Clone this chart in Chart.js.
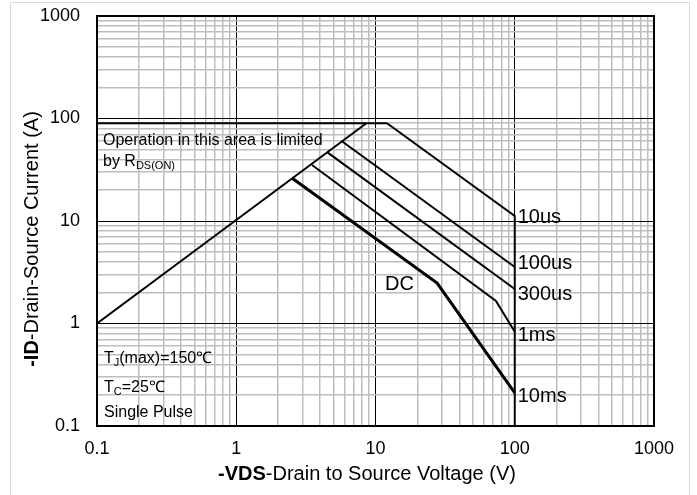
<!DOCTYPE html>
<html>
<head>
<meta charset="utf-8">
<script src="https://cdn.jsdelivr.net/npm/chart.js@4.4.1/dist/chart.umd.min.js"></script>
<style>
  html, body { margin: 0; padding: 0; background: #fff; }
  canvas { display: block; }
</style>
</head>
<body>
<canvas id="soa" width="697" height="495"></canvas>
<script>
// axis decades (tick labels)
const xDecades = [0.1, 1, 10, 100, 1000];
const yDecades = [0.1, 1, 10, 100, 1000];

// curves: VDS (V) and ID (A)
const limitV = [0.1, 12.1];
const limitI = [90, 90];
const rdsV = [0.1, 8.6];
const rdsI = [1, 90];
const us10V = [12.1, 100, 100];
const us10I = [90, 11.2, 0.1];
const us100V = [5.74, 100];
const us100I = [60, 3.56];
const us300V = [4.49, 100];
const us300I = [47, 2.17];
const ms1V = [3.5, 73.3, 100];
const ms1I = [35.2, 1.66, 0.83];
const dcV = [2.51, 27.7, 100];
const dcI = [26.3, 2.48, 0.21];

// labels at the right end of the pulse curves
const curveLabels = ['10us', '100us', '300us', '1ms', '10ms'];
const curveLabelI = [11.0, 3.9, 1.95, 0.78, 0.2];

const FONT = '"Liberation Sans", Arial, sans-serif';

const pts = (xs, ys) => xs.map((x, i) => ({ x: x, y: ys[i] }));

// grid at 1..9 x 10^n
const gridFrom = (decades) => {
  const out = [];
  decades.forEach((d, i) => {
    if (i === decades.length - 1) { out.push(d); return; }
    for (let k = 1; k <= 9; k++) out.push(parseFloat((d * k).toPrecision(6)));
  });
  return out;
};
const isDecade = (v) => Math.abs(Math.log10(v) - Math.round(Math.log10(v))) < 1e-9;

const line = (data, width) => ({
  data: data,
  borderColor: '#000',
  borderWidth: width,
  pointRadius: 0,
  tension: 0,
  fill: false
});

// draws text pieces one after another (for subscripts / bold parts)
function drawRich(ctx, x, y, parts) {
  let cx = x;
  parts.forEach(p => {
    ctx.font = (p.bold ? 'bold ' : '') + p.size + 'px ' + FONT;
    ctx.fillText(p.t, cx, y + (p.dy || 0));
    cx += ctx.measureText(p.t).width;
  });
  return cx - x;
}
function richWidth(ctx, parts) {
  let w = 0;
  parts.forEach(p => {
    ctx.font = (p.bold ? 'bold ' : '') + p.size + 'px ' + FONT;
    w += ctx.measureText(p.t).width;
  });
  return w;
}

const decor = {
  id: 'decor',
  afterDraw(chart) {
    const ctx = chart.ctx;
    const a = chart.chartArea;
    const xs = chart.scales.x, ys = chart.scales.y;
    ctx.save();

    // plot frame
    ctx.strokeStyle = '#000';
    ctx.lineWidth = 2;
    ctx.strokeRect(a.left, a.top, a.right - a.left, a.bottom - a.top);

    // outer light frame
    ctx.strokeStyle = '#d9d9d9';
    ctx.lineWidth = 1;
    ctx.strokeRect(10.5, 2.5, 679, 495);

    ctx.fillStyle = '#000';
    ctx.textBaseline = 'alphabetic';
    ctx.textAlign = 'left';

    // in-plot notes
    drawRich(ctx, a.left + 6, 145, [{ t: 'Operation in this area is limited', size: 16 }]);
    drawRich(ctx, a.left + 6, 166, [{ t: 'by R', size: 16 }, { t: 'DS(ON)', size: 11, dy: 3 }]);
    drawRich(ctx, a.left + 7, 363, [{ t: 'T', size: 16 }, { t: 'J', size: 11, dy: 3 }, { t: '(max)=150\u2103', size: 16 }]);
    drawRich(ctx, a.left + 7, 392, [{ t: 'T', size: 16 }, { t: 'C', size: 11, dy: 3 }, { t: '=25\u2103', size: 16 }]);
    drawRich(ctx, a.left + 7, 417, [{ t: 'Single Pulse', size: 16 }]);

    // curve labels
    ctx.font = '20px ' + FONT;
    ctx.textBaseline = 'middle';
    const lx = xs.getPixelForValue(100) + 3;
    curveLabels.forEach((s, i) => {
      ctx.fillText(s, lx, ys.getPixelForValue(curveLabelI[i]) + 1);
    });
    ctx.fillText('DC', xs.getPixelForValue(11.7), ys.getPixelForValue(2.38));

    // axis titles
    ctx.textBaseline = 'alphabetic';
    const xt = [{ t: '-VDS', size: 20, bold: true }, { t: '-Drain to Source Voltage (V)', size: 20 }];
    const xw = richWidth(ctx, xt);
    drawRich(ctx, 367 - xw / 2, 480, xt);

    const yt = [{ t: '-ID', size: 20, bold: true }, { t: '-Drain-Source Current (A)', size: 20 }];
    const yw = richWidth(ctx, yt);
    ctx.translate(38, 239);
    ctx.rotate(-Math.PI / 2);
    drawRich(ctx, -yw / 2, 0, yt);

    ctx.restore();
  }
};

new Chart(document.getElementById('soa'), {
  type: 'line',
  data: {
    datasets: [
      line(pts(limitV, limitI), 2),
      line(pts(rdsV, rdsI), 2),
      line(pts(us10V, us10I), 2),
      line(pts(us100V, us100I), 2),
      line(pts(us300V, us300I), 2),
      line(pts(ms1V, ms1I), 2),
      line(pts(dcV, dcI), 3)
    ]
  },
  options: {
    responsive: false,
    animation: false,
    layout: { padding: { left: 0, top: 16, right: 43, bottom: 0 } },
    plugins: { legend: { display: false }, tooltip: { enabled: false } },
    scales: {
      x: {
        type: 'logarithmic',
        min: 0.1,
        max: 1000,
        afterBuildTicks: (s) => { s.ticks = gridFrom(xDecades).map(v => ({ value: v })); },
        afterFit: (s) => { s.height = 69; s.paddingLeft = 0; s.paddingRight = 0; },
        grid: {
          drawTicks: false,
          color: (c) => isDecade(c.tick.value) ? '#000' : '#bdbdbd',
          lineWidth: (c) => isDecade(c.tick.value) ? 1 : 1.5
        },
        border: { display: false },
        ticks: {
          autoSkip: false,
          maxRotation: 0,
          padding: 12,
          color: '#000',
          font: { family: FONT, size: 18 },
          callback: (v) => xDecades.some(d => Math.abs(d - v) < 1e-9) ? String(v) : ''
        }
      },
      y: {
        type: 'logarithmic',
        min: 0.1,
        max: 1000,
        afterBuildTicks: (s) => { s.ticks = gridFrom(yDecades).map(v => ({ value: v })); },
        afterFit: (s) => { s.width = 97; s.paddingTop = 0; s.paddingBottom = 0; },
        grid: {
          drawTicks: false,
          color: (c) => isDecade(c.tick.value) ? '#000' : '#bdbdbd',
          lineWidth: (c) => isDecade(c.tick.value) ? 1 : 1.5
        },
        border: { display: false },
        ticks: {
          autoSkip: false,
          padding: 17,
          color: '#000',
          font: { family: FONT, size: 18 },
          callback: (v) => yDecades.some(d => Math.abs(d - v) < 1e-9) ? String(v) : ''
        }
      }
    }
  },
  plugins: [decor]
});
</script>
</body>
</html>
